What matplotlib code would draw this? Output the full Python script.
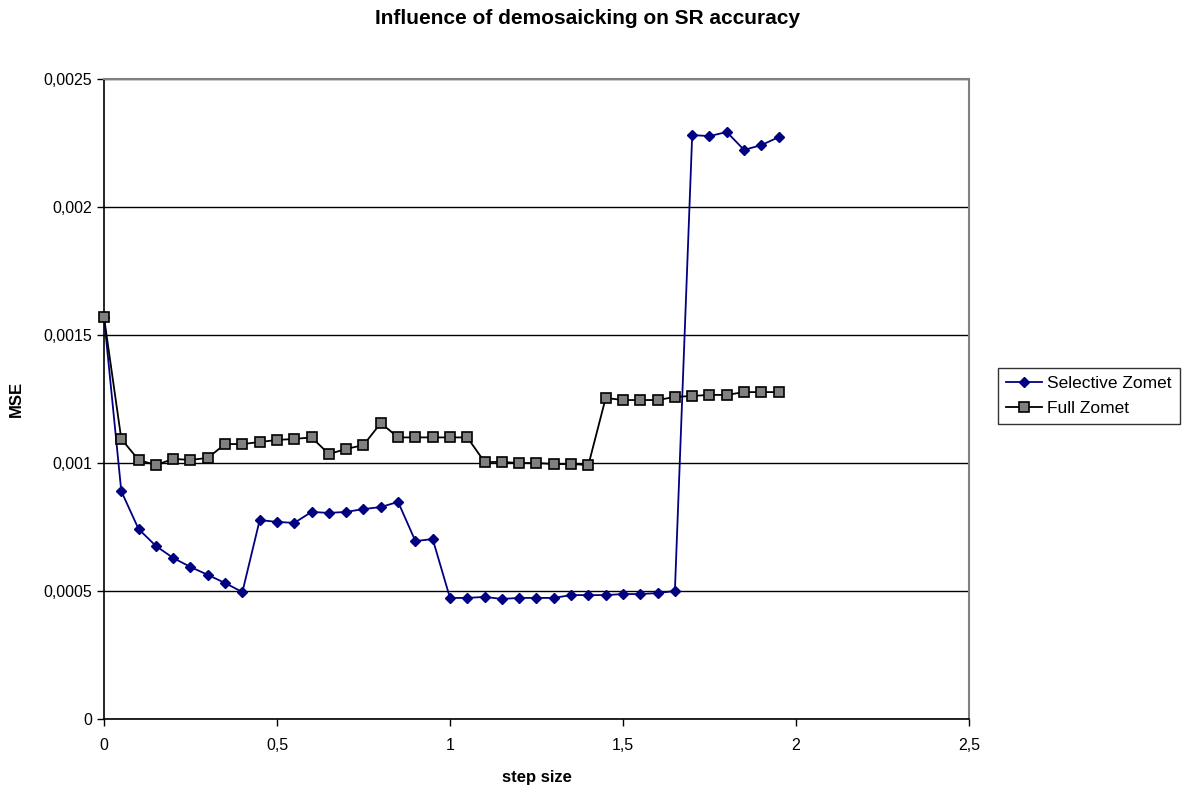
import matplotlib.pyplot as plt
from matplotlib.ticker import FuncFormatter

plt.rcParams['font.family'] = ['Liberation Sans', 'DejaVu Sans']

step = [i * 0.05 for i in range(40)]

selective = [0.00157, 0.00089, 0.000742, 0.000676, 0.000629, 0.000594, 0.000563, 0.000531,
             0.000496, 0.000777, 0.00077, 0.000766, 0.000809, 0.000805, 0.000809, 0.00082,
             0.000828, 0.000848, 0.000695, 0.000703, 0.000473, 0.000473, 0.000477, 0.000469,
             0.000473, 0.000473, 0.000473, 0.000484, 0.000484, 0.000484, 0.000488, 0.000488,
             0.000492, 0.0005, 0.002281, 0.002277, 0.002293, 0.002223, 0.002242, 0.002273]

full = [0.00157, 0.001094, 0.001012, 0.000992, 0.001016, 0.001012, 0.00102, 0.001074,
        0.001074, 0.001082, 0.00109, 0.001094, 0.0011, 0.001035, 0.001055, 0.00107,
        0.001156, 0.0011, 0.0011, 0.0011, 0.0011, 0.0011, 0.001004, 0.001004,
        0.001, 0.001, 0.000996, 0.000996, 0.000992, 0.001254, 0.001246, 0.001246,
        0.001246, 0.001258, 0.001262, 0.001266, 0.001266, 0.001277, 0.001277, 0.001277]

fig = plt.figure(figsize=(11.83, 7.87), dpi=100)
ax = fig.add_axes([0.0879, 0.0864, 0.7312, 0.8132])

ax.plot(step, selective, color='#000080', lw=1.3, marker='D', ms=5.5,
        mfc='#000080', mec='#000080', label='Selective Zomet', zorder=3, clip_on=False)
ax.plot(step, full, color='black', lw=1.3, marker='s', ms=6.5,
        mfc='#808080', mec='black', mew=1.2, label='Full Zomet', zorder=4, clip_on=False)

ax.set_xlim(0, 2.5)
ax.set_ylim(0, 0.0025)
ax.set_xticks([0, 0.5, 1, 1.5, 2, 2.5])
ax.set_yticks([0, 0.0005, 0.001, 0.0015, 0.002, 0.0025])

comma = FuncFormatter(lambda v, p: ('%g' % round(v, 6)).replace('.', ','))
ax.xaxis.set_major_formatter(comma)
ax.yaxis.set_major_formatter(comma)
ax.tick_params(direction='out', length=5, width=1, labelsize=11.5, colors='black')
ax.tick_params(axis='x', pad=9)

ax.yaxis.grid(True, color='black', lw=1)
ax.set_axisbelow(True)
for s in ['top', 'right']:
    ax.spines[s].set_color('#808080')
    ax.spines[s].set_linewidth(1.5)
for s in ['left', 'bottom']:
    ax.spines[s].set_color('black')
    ax.spines[s].set_linewidth(1.2)

ax.set_xlabel('step size', fontsize=12, fontweight='bold', labelpad=12)
ax.set_ylabel('MSE', fontsize=12, fontweight='bold', labelpad=14)
fig.suptitle('Influence of demosaicking on SR accuracy', fontsize=15,
             fontweight='bold', x=0.497, y=0.988)

leg = fig.legend(loc='upper left', bbox_to_anchor=(0.8435, 0.532), fontsize=12.5,
                 frameon=True, fancybox=False, edgecolor='black', handlelength=2.1,
                 handletextpad=0.3, borderpad=0.45, labelspacing=0.55, borderaxespad=0)
leg.get_frame().set_linewidth(1)

plt.savefig('out.png', dpi=100)
